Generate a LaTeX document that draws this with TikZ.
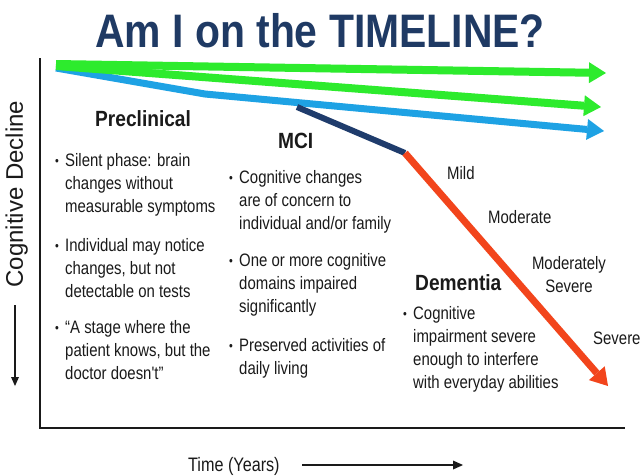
\documentclass[tikz,border=0pt]{standalone}
\usepackage{fontspec}
\setmainfont{Liberation Sans}[FakeStretch=0.87]
\newfontfamily\widesans{Liberation Sans}
\newfontfamily\narrowsans{Liberation Sans}[FakeStretch=0.83]
\usetikzlibrary{arrows.meta}

\definecolor{titlenavy}{HTML}{1F3A64}
\definecolor{limegreen}{HTML}{2DEB2D}
\definecolor{skyblue}{HTML}{1EA2E4}
\definecolor{mcinavy}{HTML}{1F3C6C}
\definecolor{dementiared}{HTML}{F2451C}
\definecolor{ink}{HTML}{1A1A1A}

% one bulleted item: the bullet, then a block whose reference point is the baseline of its first line
\newcommand\bulleted[1]{\narrowsans\fontsize{18}{23}\selectfont
  \makebox[10pt][l]{\fontsize{13}{13}\selectfont\raisebox{0.5pt}{•}}%
  \parbox[t]{200pt}{\raggedright\narrowsans\fontsize{18}{23}\selectfont #1}}

\tikzset{
  body/.style={anchor=base west, inner sep=0pt, text=ink},
  heading/.style={anchor=base west, inner sep=0pt, text=ink,
    font=\bfseries\fontsize{22}{26}\selectfont},
  severity/.style={anchor=base west, inner sep=0pt, text=ink,
    font=\narrowsans\fontsize{18}{20}\selectfont},
  trend/.style={line width=8pt, line join=round,
    -{Triangle[length=17pt,width=21pt,line width=0pt]}},
  axis/.style={line width=2pt, draw=ink},
}

\begin{document}
\begin{tikzpicture}[x=1pt,y=-1pt]
  \fill[white] (0,0) rectangle (640,475);
  \useasboundingbox (0,0) rectangle (640,475);

  % title
  \node[anchor=base, inner sep=0pt, text=titlenavy,
        font=\bfseries\fontsize{47}{50}\selectfont] (title) at (320,47) {Am I on the TIMELINE?};

  % axes
  \coordinate (axtop) at (40,58);
  \coordinate (axorigin) at (40,428);
  \coordinate (axright) at (625,428);
  \draw[axis] (axtop) -- (axorigin) -- (axright);

  % vertical axis label and its arrow
  \node[rotate=90, anchor=base, inner sep=0pt, text=ink,
        font=\widesans\fontsize{24}{26}\selectfont] (decline) at (23,194) {Cognitive Decline};
  \coordinate (declinetop) at (15,305);
  \coordinate (declinebot) at (15,386);
  \draw[line width=2pt, draw=ink, -{Triangle[length=9pt,width=8pt,line width=0pt]}] (declinetop) -- (declinebot);

  % horizontal axis label and its arrow
  \node[anchor=base west, inner sep=0pt, text=ink, font=\narrowsans\fontsize{19.5}{21}\selectfont] (time) at (188,471) {Time (Years)};
  \coordinate (timestart) at (302,465);
  \coordinate (timeend) at (463,465);
  \draw[line width=2.5pt, draw=ink, -{Triangle[length=10pt,width=9pt,line width=0pt]}] (timestart) -- (timeend);

  % trajectories
  \coordinate (bluestart) at (56,68);
  \coordinate (blueknee) at (205,94);
  \coordinate (blueend) at (604,131);
  \coordinate (greenlowstart) at (56,66);
  \coordinate (greenlowend) at (601,107);
  \coordinate (greentopstart) at (56,64);
  \coordinate (greentopend) at (606,73);
  \coordinate (mcistart) at (297,107);
  \coordinate (mciknee) at (405,153);
  \coordinate (dementiaend) at (608,386);

  \draw[trend, skyblue, line width=7pt] (bluestart) -- (blueknee) -- (blueend);
  \draw[trend, limegreen] (greenlowstart) -- (greenlowend);
  \draw[trend, limegreen] (greentopstart) -- (greentopend);
  \draw[mcinavy, line width=6pt] (mcistart) -- (mciknee);
  \draw[trend, dementiared, line width=7pt] (mciknee) -- (dementiaend);

  % preclinical stage
  \node[heading] (preclinical) at (95,126) {Preclinical};
  \node[body] (pre1) at (55,166) {\bulleted{Silent phase: brain\\changes without\\measurable symptoms}};
  \node[body] (pre2) at (55,251) {\bulleted{Individual may notice\\changes, but not\\detectable on tests}};
  \node[body] (pre3) at (55,333) {\bulleted{“A stage where the\\patient knows, but the\\doctor doesn't”}};

  % MCI stage
  \node[heading] (mci) at (278,148) {MCI};
  \node[body] (mci1) at (229,183) {\bulleted{Cognitive changes\\are of concern to\\individual and/or family}};
  \node[body] (mci2) at (229,266) {\bulleted{One or more cognitive\\domains impaired\\significantly}};
  \node[body] (mci3) at (229,351) {\bulleted{Preserved activities of\\daily living}};

  % dementia stage
  \node[heading] (dementia) at (415,290) {Dementia};
  \node[body] (dem1) at (403,319) {\bulleted{Cognitive\\impairment severe\\enough to interfere\\with everyday abilities}};

  % severity along the dementia line
  \node[severity] (mild) at (447,179) {Mild};
  \node[severity] (moderate) at (488,223) {Moderate};
  \node[anchor=base, inner sep=0pt, text=ink] (modsevere) at (569,269)
    {\parbox[t]{100pt}{\centering\narrowsans\fontsize{18}{23}\selectfont Moderately\\Severe}};
  \node[severity] (severe) at (593,344) {Severe};
\end{tikzpicture}
\end{document}
